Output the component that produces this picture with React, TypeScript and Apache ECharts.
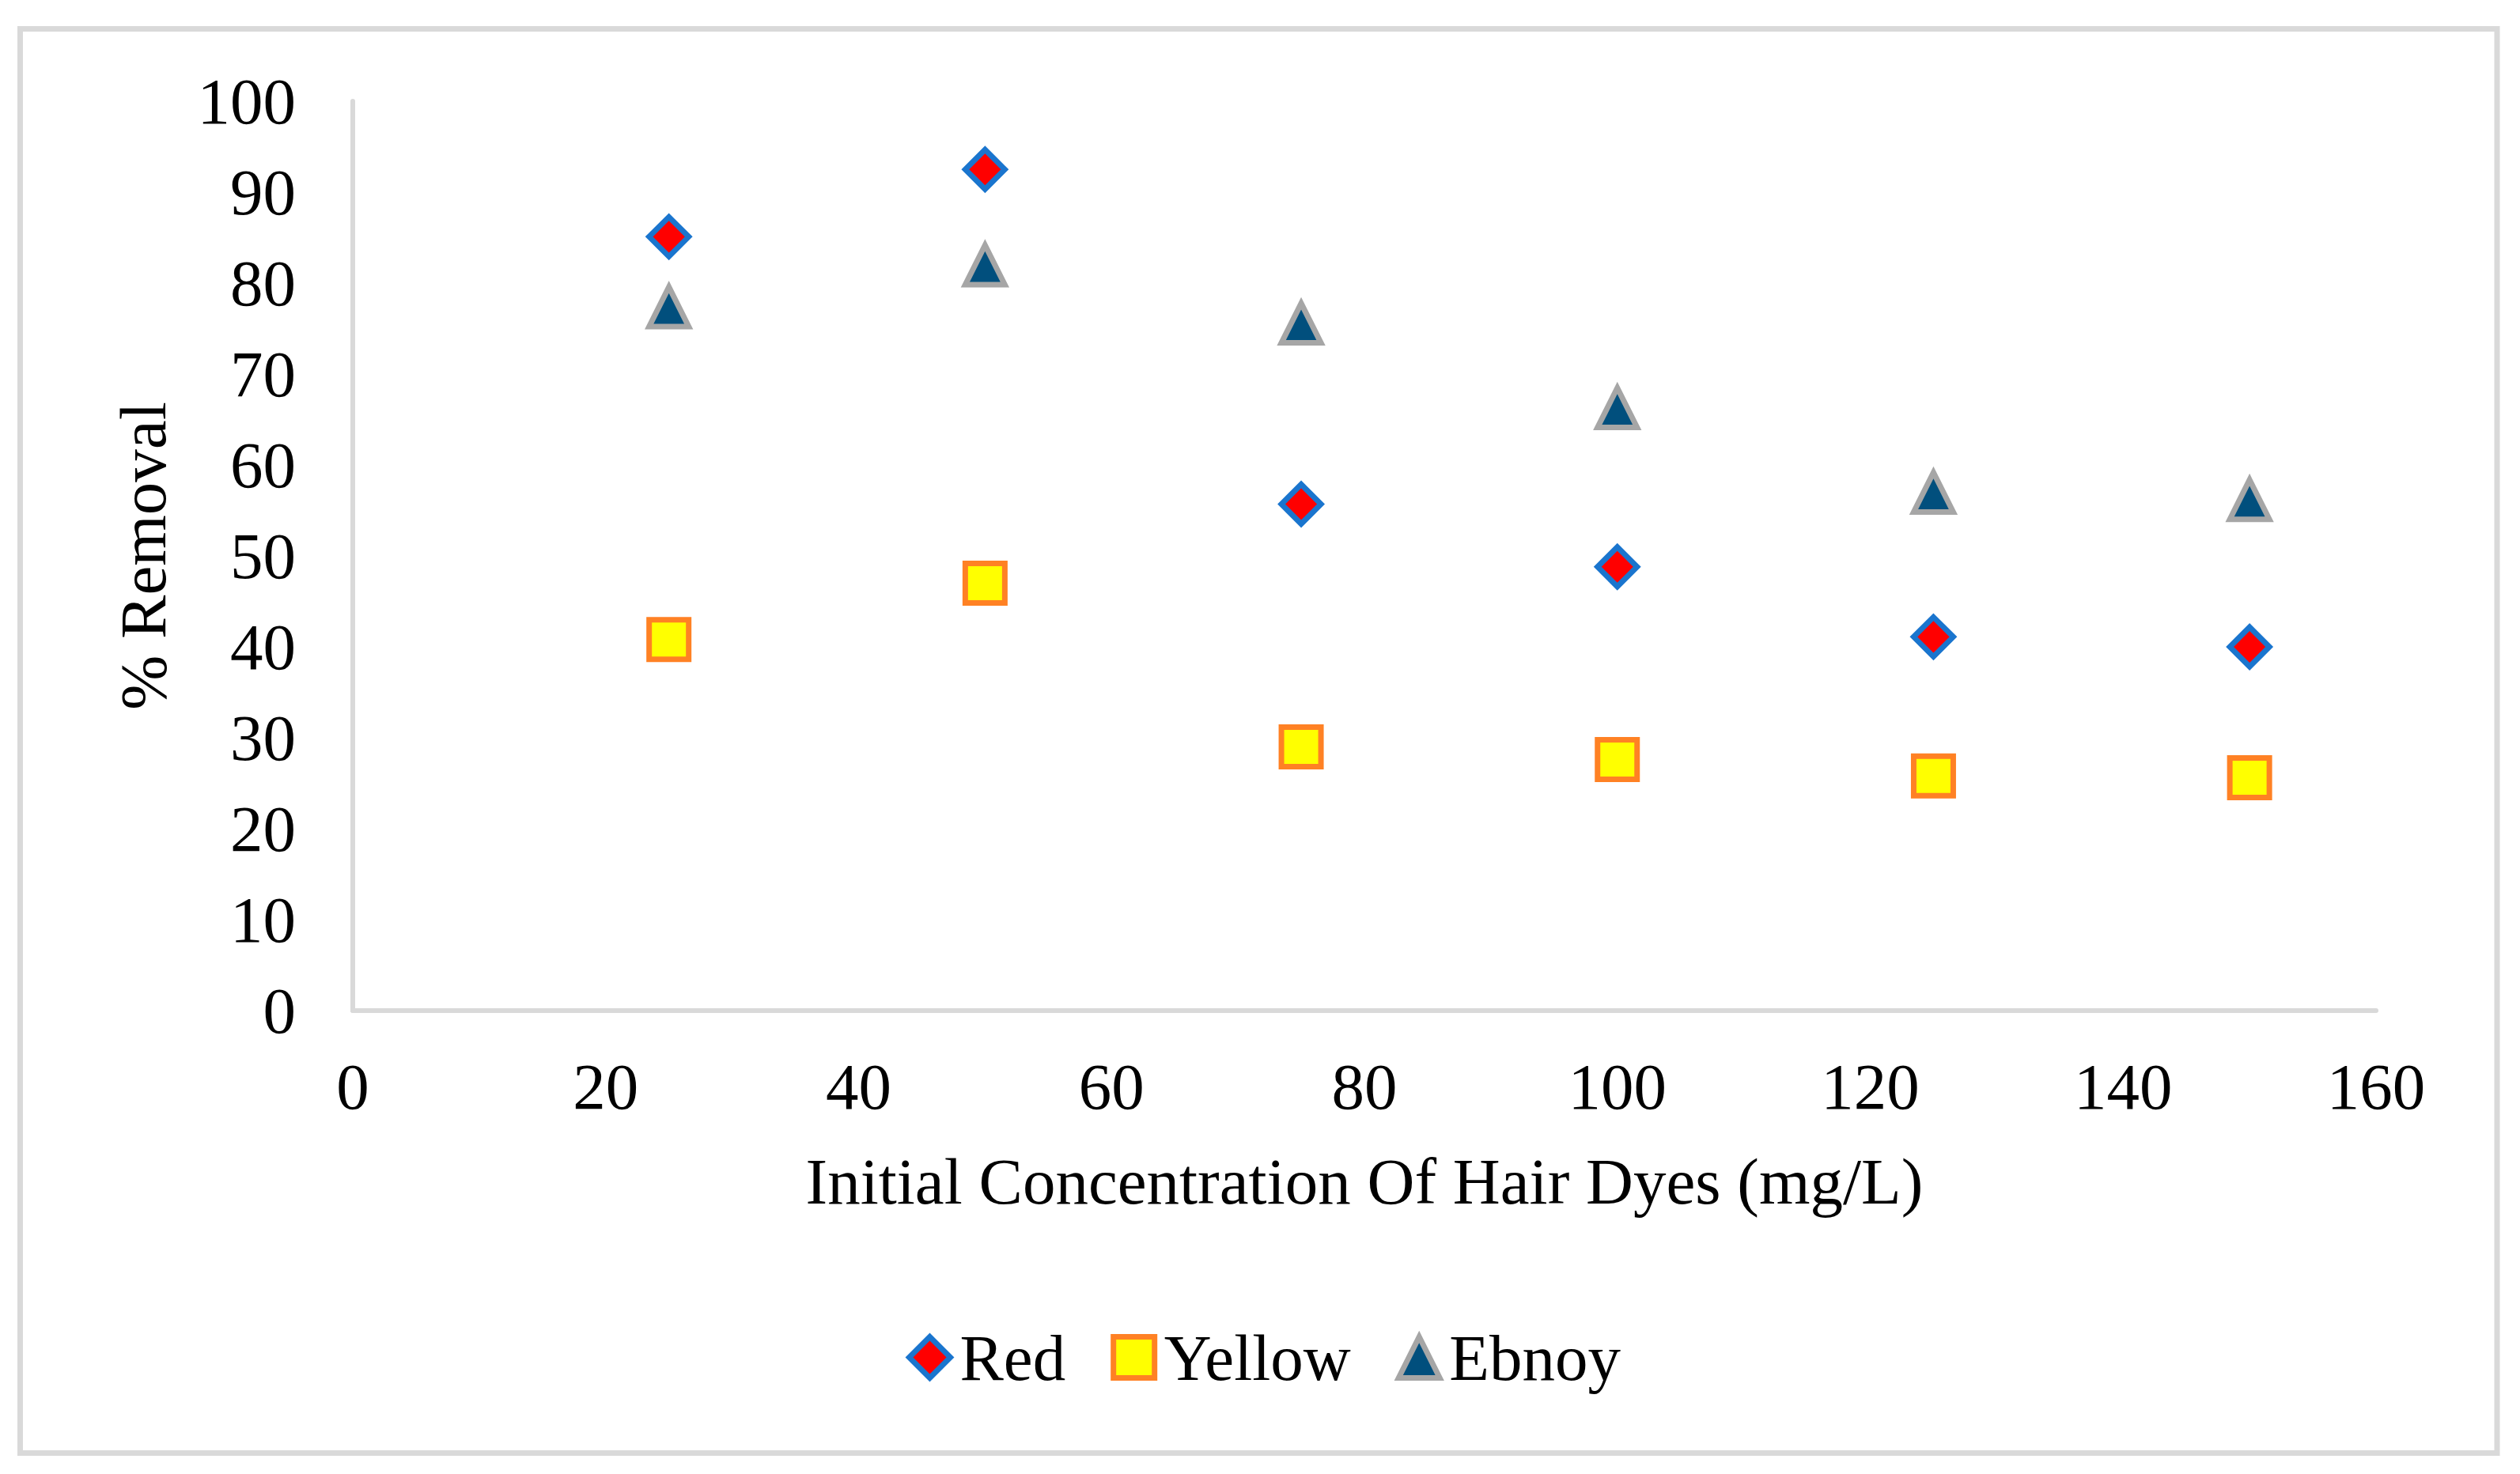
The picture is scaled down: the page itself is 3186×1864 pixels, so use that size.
import React, { useEffect, useRef } from "react";
import * as echarts from "echarts";

const concentrations = [25, 50, 75, 100, 125, 150];
const redValues = [85.1, 92.5, 55.7, 48.8, 41.1, 40.0];
const yellowValues = [40.8, 47.0, 29.0, 27.6, 25.8, 25.6];
const ebnoyValues = [77.4, 82.0, 75.6, 66.3, 57.0, 56.2];
const seriesNames = ["Red", "Yellow", "Ebnoy"];
const xAxisTitle = "Initial Concentration Of Hair Dyes (mg/L)";
const yAxisTitle = "% Removal";

const FONT = "'Liberation Serif', 'Times New Roman', serif";
const FS = 83;

function pairs(xs: number[], ys: number[]) {
  return xs.map((x, i) => [x, ys[i]]);
}

export default function App() {
  const ref = useRef<HTMLDivElement>(null);
  useEffect(() => {
    if (!ref.current) return;
    const chart = echarts.init(ref.current, null, { renderer: "svg" });
    const axisLine = { show: true, lineStyle: { color: "#D9D9D9", width: 6 } };
    chart.setOption({
      animation: false,
      backgroundColor: "#FFFFFF",
      textStyle: { fontFamily: FONT, color: "#000" },
      grid: { left: 446, right: 182, top: 128, bottom: 586, containLabel: false },
      graphic: [
        {
          type: "rect",
          shape: { x: 25.5, y: 36.5, width: 3131.5, height: 1801 },
          style: { fill: "none", stroke: "#D9D9D9", lineWidth: 7 },
          silent: true,
          z: -1,
        },
      ],
      xAxis: {
        type: "value",
        min: 0,
        max: 160,
        interval: 20,
        axisLine,
        axisTick: { show: false },
        splitLine: { show: false },
        axisLabel: { margin: 54, fontSize: FS, fontFamily: FONT, color: "#000" },
        name: xAxisTitle,
        nameLocation: "middle",
        nameGap: 174,
        nameTextStyle: { fontSize: FS, fontFamily: FONT, color: "#000" },
      },
      yAxis: {
        type: "value",
        min: 0,
        max: 100,
        interval: 10,
        axisLine,
        axisTick: { show: false },
        splitLine: { show: false },
        axisLabel: {
          margin: 72,
          fontSize: FS,
          fontFamily: FONT,
          color: "#000",
          padding: [0, 0, 10, 0],
        },
        name: yAxisTitle,
        nameLocation: "middle",
        nameGap: 224,
        nameTextStyle: { fontSize: FS, fontFamily: FONT, color: "#000" },
      },
      legend: {
        data: seriesNames,
        left: 1141,
        top: 1670,
        itemWidth: 52,
        itemHeight: 52,
        itemGap: 57,
        itemStyle: { borderWidth: 7 },
        textStyle: {
          fontSize: FS,
          fontFamily: FONT,
          color: "#000",
          padding: [0, 0, 0, 7],
        },
      },
      series: [
        {
          name: seriesNames[0],
          type: "scatter",
          symbol: "diamond",
          symbolSize: 50,
          data: pairs(concentrations, redValues),
          itemStyle: { color: "#FF0000", borderColor: "#1A75CE", borderWidth: 7, opacity: 1 },
        },
        {
          name: seriesNames[1],
          type: "scatter",
          symbol: "rect",
          symbolSize: 50,
          data: pairs(concentrations, yellowValues),
          itemStyle: { color: "#FFFF00", borderColor: "#FF8124", borderWidth: 7, opacity: 1 },
        },
        {
          name: seriesNames[2],
          type: "scatter",
          symbol: "triangle",
          symbolSize: 50,
          data: pairs(concentrations, ebnoyValues),
          itemStyle: { color: "#014F7D", borderColor: "#A6A6A6", borderWidth: 7, opacity: 1 },
        },
      ],
    });
    return () => chart.dispose();
  }, []);
  return (
    <div
      ref={ref}
      style={{ position: "fixed", left: 0, top: 0, width: 3186, height: 1864, background: "#fff" }}
    />
  );
}
